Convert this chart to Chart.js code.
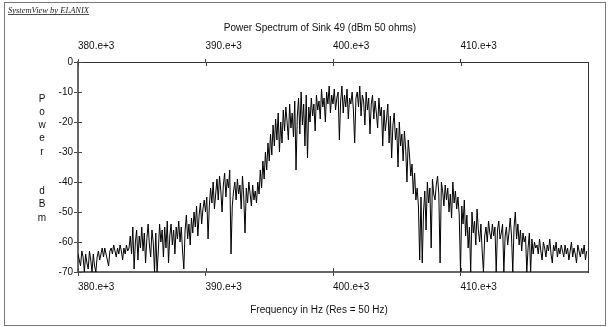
<!DOCTYPE html>
<html><head><meta charset="utf-8">
<script src="https://cdn.jsdelivr.net/npm/chart.js@4"></script>
<style>html,body{margin:0;padding:0;background:#fff}canvas{display:block}</style>
</head><body>
<canvas id="c" width="608" height="327"></canvas>
<script>
const freqStart = 380000;
const freqStep = 100;
const powerDbm = [
  -64, -66, -68, -63, -65, -70, -64, -67, -69, -63, -66, -70, -64, -68, -70, -65, -63, -66, -64, -62,
  -65, -62, -64, -66, -68, -63, -62, -64, -61, -63, -65, -62, -64, -61, -63, -66, -62, -64, -61, -63,
  -62, -58, -64, -55, -69, -60, -56, -66, -58, -62, -55, -63, -57, -67, -59, -54, -61, -65, -56, -60,
  -70, -57, -70, -63, -54, -60, -56, -65, -55, -62, -53, -67, -58, -54, -61, -56, -64, -55, -59, -53,
  -60, -55, -63, -69, -56, -51, -59, -54, -61, -52, -57, -50, -55, -48, -58, -51, -47, -54, -49, -46,
  -50, -45, -59, -48, -42, -47, -40, -49, -44, -39, -46, -38, -43, -50, -41, -37, -45, -39, -42, -36,
  -64, -48, -43, -40, -46, -39, -44, -41, -49, -38, -45, -57, -42, -47, -40, -44, -48, -41, -46, -43,
  -47, -40, -44, -36, -42, -33, -39, -30, -36, -27, -33, -24, -31, -21, -28, -19, -26, -17, -30, -20,
  -27, -16, -23, -15, -20, -26, -14, -22, -17, -25, -13, -36, -18, -12, -24, -10, -21, -14, -28, -11,
  -32, -15, -20, -12, -18, -14, -23, -11, -16, -13, -19, -9, -15, -12, -20, -10, -14, -8, -17, -11,
  -14, -9, -16, -12, -10, -26, -13, -8, -17, -11, -15, -9, -19, -12, -14, -10, -16, -27, -12, -10,
  -15, -8, -18, -11, -13, -21, -10, -16, -12, -24, -14, -11, -19, -13, -17, -22, -12, -18, -15, -28,
  -16, -23, -19, -14, -27, -18, -32, -21, -17, -26, -22, -35, -20, -28, -24, -33, -23, -29, -40, -26,
  -31, -38, -34, -44, -37, -46, -42, -48, -66, -45, -67, -50, -43, -56, -40, -47, -42, -62, -39, -44,
  -46, -41, -38, -44, -67, -40, -43, -48, -41, -46, -42, -50, -44, -52, -40, -47, -43, -49, -45, -51,
  -70, -48, -54, -46, -58, -51, -62, -55, -70, -50, -57, -53, -61, -49, -56, -60, -54, -63, -70, -58,
  -55, -60, -53, -57, -59, -54, -58, -55, -70, -56, -53, -59, -57, -54, -70, -58, -55, -61, -57, -52,
  -58, -70, -55, -50, -59, -54, -61, -56, -63, -57, -60, -58, -70, -62, -57, -70, -59, -64, -60, -62,
  -61, -64, -59, -63, -66, -60, -62, -65, -61, -63, -59, -64, -67, -61, -63, -60, -65, -62, -64, -61,
  -63, -65, -61, -64, -62, -66, -63, -60, -65, -62, -64, -67, -61, -63, -65, -62, -64, -61, -66, -63
];
const freqTicks = [380000, 390000, 400000, 410000];
const powerTicks = [0, -10, -20, -30, -40, -50, -60, -70];
const titleText = 'Power Spectrum of Sink 49 (dBm 50 ohms)';
const xTitleText = 'Frequency in Hz (Res = 50 Hz)';
const yTitleLetters = ['P', 'o', 'w', 'e', 'r', '', '', 'd', 'B', 'm'];
const brandText = 'SystemView by ELANIX';

const points = powerDbm.map((v, i) => ({ x: freqStart + i * freqStep, y: v }));
const sans = '"Liberation Sans", Arial, sans-serif';
const tickFont = { family: sans, size: 10 };
const fmtFreq = v => (v / 1000).toFixed(0) + '.e+3';

const decor = {
  id: 'decor',
  beforeDraw(chart) {
    const ctx = chart.ctx;
    ctx.save();
    ctx.fillStyle = '#fff';
    ctx.fillRect(0, 0, chart.width, chart.height);
    ctx.restore();
  },
  afterDraw(chart) {
    const ctx = chart.ctx, a = chart.chartArea;
    const sx = chart.scales.x, sy = chart.scales.y;
    ctx.save();
    ctx.strokeStyle = '#444';
    ctx.lineWidth = 1;
    ctx.beginPath();
    freqTicks.forEach(v => {
      const px = Math.round(sx.getPixelForValue(v)) + 0.5;
      ctx.moveTo(px, a.bottom); ctx.lineTo(px, a.bottom - 4);
      ctx.moveTo(px, a.top); ctx.lineTo(px, a.top + 4);
    });
    powerTicks.forEach(v => {
      const py = Math.round(sy.getPixelForValue(v)) + 0.5;
      ctx.moveTo(a.left, py); ctx.lineTo(a.left + 4, py);
    });
    ctx.stroke();
    ctx.strokeStyle = '#777';
    ctx.strokeRect(4.5, 2.5, 601, 323);
    ctx.fillStyle = '#222';
    ctx.font = 'italic 8.5px "Liberation Serif", "Times New Roman", serif';
    ctx.textAlign = 'left';
    ctx.textBaseline = 'alphabetic';
    ctx.fillText(brandText, 8, 13);
    const bw = ctx.measureText(brandText).width;
    ctx.fillRect(8, 14, bw, 0.8);
    ctx.fillStyle = '#111';
    ctx.font = '10px ' + sans;
    ctx.textAlign = 'center';
    ctx.textBaseline = 'middle';
    ctx.fillText(titleText, 320, 28);
    ctx.fillText(xTitleText, 319, 310);
    yTitleLetters.forEach((ch, k) => {
      if (ch) ctx.fillText(ch, 42, 99 + k * 13.2);
    });
    ctx.restore();
  }
};

new Chart(document.getElementById('c'), {
  type: 'line',
  data: {
    datasets: [{
      data: points,
      borderColor: '#000',
      borderWidth: 1,
      pointRadius: 0,
      tension: 0,
      fill: false
    }]
  },
  options: {
    responsive: false,
    animation: false,
    devicePixelRatio: 1,
    layout: { padding: 0 },
    plugins: { legend: { display: false }, tooltip: { enabled: false }, title: { display: false } },
    scales: {
      x: {
        type: 'linear', position: 'bottom', min: 380000, max: 420000,
        afterBuildTicks: s => { s.ticks = freqTicks.map(v => ({ value: v })); },
        ticks: { align: 'start', padding: 5, font: tickFont, color: '#111', callback: fmtFreq, maxRotation: 0, autoSkip: false },
        grid: { drawOnChartArea: false, drawTicks: true, tickLength: 4, color: '#444' },
        border: { color: '#666', width: 2 },
        afterFit: s => { s.height = 55; }
      },
      x2: {
        type: 'linear', position: 'top', min: 380000, max: 420000,
        afterBuildTicks: s => { s.ticks = freqTicks.map(v => ({ value: v })); },
        ticks: { align: 'start', padding: 7, font: tickFont, color: '#111', callback: fmtFreq, maxRotation: 0, autoSkip: false },
        grid: { drawOnChartArea: false, drawTicks: true, tickLength: 3, color: '#444' },
        border: { color: '#333', width: 1 },
        afterFit: s => { s.height = 62; }
      },
      y: {
        type: 'linear', position: 'left', min: -70, max: 0,
        afterBuildTicks: s => { s.ticks = powerTicks.map(v => ({ value: v })); },
        ticks: { padding: 1, font: tickFont, color: '#111' },
        grid: { drawOnChartArea: false, drawTicks: true, tickLength: 4, color: '#444' },
        border: { color: '#666', width: 2 },
        afterFit: s => { s.width = 78; }
      },
      y2: {
        type: 'linear', position: 'right', min: -70, max: 0,
        ticks: { display: false },
        grid: { drawOnChartArea: false, drawTicks: false },
        border: { color: '#333', width: 1 },
        afterFit: s => { s.width = 20; }
      }
    }
  },
  plugins: [decor]
});
</script>
</body></html>
